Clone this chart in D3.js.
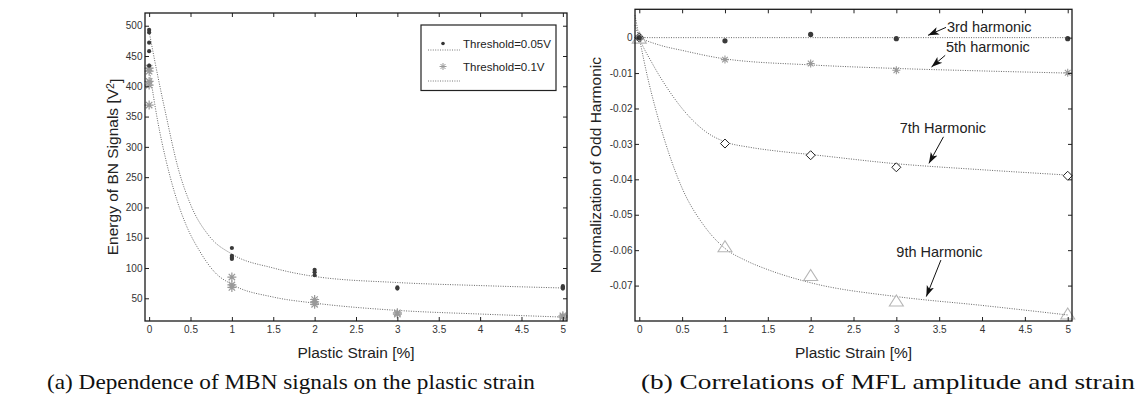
<!DOCTYPE html>
<html lang="en">
  <head>
    <title>MBN and MFL vs plastic strain</title>
    <script type="text/javascript" src="https://d3js.org/d3.v7.min.js"></script>
    <style>
      body { margin: 0; background: #fff; }
      text { font-family: "Liberation Sans", Arial, sans-serif; }
    </style>
  </head>

  <body>
    <div id="chart"></div>

    <script>
      // ---- data ----
      // (a) energy of BN signals, repeated measurements per strain
      const energy005 = [[0, 493], [0, 489], [0, 472], [0, 458], [0, 434],
        [1, 133], [1, 120], [1, 117], [1, 115],
        [2, 97], [2, 93], [2, 88],
        [3, 68], [3, 66],
        [5, 70], [5, 68], [5, 66]];
      const energy01 = [[0, 430], [0, 425], [0, 408], [0, 402], [0, 369],
        [1, 85], [1, 72], [1, 68],
        [2, 48], [2, 44], [2, 40],
        [3, 26], [3, 24],
        [5, 21], [5, 19]];
      // fitted curves (dotted), read point by point
      const fitStrainA = [0, 0.1, 0.2, 0.35, 0.5, 0.73, 1, 1.5, 2, 3, 4, 5];
      const fit005 = [490, 420, 355, 265, 205, 152, 123, 100, 86, 76, 71, 67];
      const fitStrainB = [0, 0.1, 0.2, 0.3, 0.45, 0.61, 0.8, 1, 1.5, 2, 3, 4, 5];
      const fit01 = [430, 345, 280, 228, 170, 128, 92, 73, 52, 42, 30, 24, 19];

      // (b) normalized odd harmonics
      const harmStrain = [0, 1, 2, 3, 5];
      const h3 = [0, -0.0009, 0.0009, -0.0003, -0.0003];
      const h5 = [0, -0.0062, -0.0073, -0.0092, -0.0099];
      const h7 = [0, -0.0299, -0.0332, -0.0366, -0.0390];
      const h9 = [0, -0.0589, -0.0670, -0.0742, -0.0779];
      const fit3Strain = [-0.05, 0, 1, 2, 3, 4, 5];
      const fit3 = [0, 0, 0, 0, 0, 0, 0];
      const fit5Strain = [-0.05, 0, 0.25, 0.5, 1, 2, 3, 4, 5];
      const fit5 = [0.0006, 0, -0.0022, -0.0036, -0.006, -0.0077, -0.0087, -0.0094, -0.0100];
      const fit7Strain = [-0.05, 0, 0.15, 0.32, 0.59, 0.79, 1, 1.3, 1.6, 2, 3, 4, 5];
      const fit7 = [0.0035, 0, -0.0072, -0.0140, -0.0225, -0.0268, -0.0294, -0.0310, -0.0320, -0.0330, -0.0356, -0.0373, -0.0388];
      const fit9Strain = [-0.05, 0, 0.1, 0.2, 0.35, 0.5, 0.75, 1, 1.25, 1.5, 2, 3, 4, 5];
      const fit9 = [0.0063, 0, -0.0115, -0.021, -0.033, -0.0425, -0.0529, -0.0595, -0.0630, -0.0655, -0.0692, -0.0731, -0.0756, -0.0783];

      // annotations: label, text anchor point, arrow tail, arrow tip (data units)
      const notes = [
        {label: "3rd harmonic", tx: 3.59, ty: 0.0030, x1: 3.58, y1: 0.0029, x2: 3.37, y2: 0.00065},
        {label: "5th harmonic", tx: 3.58, ty: -0.00265, x1: 3.57, y1: -0.0050, x2: 3.41, y2: -0.0083},
        {label: "7th Harmonic", tx: 3.04, ty: -0.0256, x1: 3.55, y1: -0.0280, x2: 3.38, y2: -0.0355},
        {label: "9th Harmonic", tx: 3.00, ty: -0.0604, x1: 3.52, y1: -0.0628, x2: 3.35, y2: -0.0731}
      ];

      const strainTicks = [0, 0.5, 1, 1.5, 2, 2.5, 3, 3.5, 4, 4.5, 5];
      const energyTicks = [50, 100, 150, 200, 250, 300, 350, 400, 450, 500];
      const harmTicks = [0, -0.01, -0.02, -0.03, -0.04, -0.05, -0.06, -0.07];

      const captionA = "(a) Dependence of MBN signals on the plastic strain";
      const captionB = "(b) Correlations of MFL amplitude and strain";

      // ---- layout ----
      const W = 1140, H = 394;
      const boxA = {left: 145, right: 567, top: 13, bottom: 321};
      const boxB = {left: 635, right: 1072, top: 9.3, bottom: 321};

      const svg = d3.select("#chart").append("svg")
        .attr("width", W).attr("height", H);

      const defs = svg.append("defs");
      defs.append("marker")
        .attr("id", "arrow")
        .attr("viewBox", "0 0 10 10")
        .attr("refX", 10).attr("refY", 5)
        .attr("markerWidth", 11).attr("markerHeight", 11)
        .attr("markerUnits", "userSpaceOnUse")
        .attr("orient", "auto")
        .append("path")
          .attr("d", "M0,1.5 L10,5 L0,8.5 L2.5,5 Z")
          .attr("fill", "#111");

      const xA = d3.scaleLinear().domain([-0.05, 5.05]).range([boxA.left, boxA.right]);
      const yA = d3.scaleLinear().domain([12.5, 521]).range([boxA.bottom, boxA.top]);
      const xB = d3.scaleLinear().domain([-0.05, 5.05]).range([boxB.left, boxB.right]);
      const yB = d3.scaleLinear().domain([-0.08, 0.008]).range([boxB.bottom, boxB.top]);

      function styleAxis(g) {
        g.select(".domain").remove();
        g.selectAll(".tick line").attr("stroke", "#222").attr("stroke-width", 1);
        g.selectAll(".tick text")
          .attr("fill", "#333")
          .style("font-family", "'Liberation Sans', Arial, sans-serif")
          .style("font-size", "10px");
      }

      function drawFrame(box, x, y, yTicks) {
        const g = svg.append("g");
        g.append("g")
          .attr("transform", "translate(0," + box.bottom + ")")
          .call(d3.axisBottom(x).tickValues(strainTicks).tickSizeInner(-4).tickSizeOuter(0)
            .tickPadding(5).tickFormat(d => String(d)))
          .call(styleAxis);
        g.append("g")
          .attr("transform", "translate(0," + box.top + ")")
          .call(d3.axisTop(x).tickValues(strainTicks).tickSizeInner(-4).tickSizeOuter(0).tickFormat(""))
          .call(styleAxis);
        g.append("g")
          .attr("transform", "translate(" + box.left + ",0)")
          .call(d3.axisLeft(y).tickValues(yTicks).tickSizeInner(-4).tickSizeOuter(0)
            .tickPadding(2.5).tickFormat(d => String(d)))
          .call(styleAxis);
        g.append("g")
          .attr("transform", "translate(" + box.right + ",0)")
          .call(d3.axisRight(y).tickValues(yTicks).tickSizeInner(-4).tickSizeOuter(0).tickFormat(""))
          .call(styleAxis);
        g.append("rect")
          .attr("x", box.left).attr("y", box.top)
          .attr("width", box.right - box.left).attr("height", box.bottom - box.top)
          .attr("fill", "none").attr("stroke", "#1a1a1a").attr("stroke-width", 1.3);
      }

      function dottedLine(g, xs, vs, x, y) {
        g.append("path")
          .datum(d3.zip(xs, vs))
          .attr("fill", "none")
          .attr("stroke", "#666")
          .attr("stroke-width", 1)
          .attr("stroke-dasharray", "1,1.4")
          .attr("d", d3.line()
            .x(d => x(d[0]))
            .y(d => y(d[1]))
            .curve(d3.curveMonotoneX));
      }

      function starPath(r) {
        const s = r * 0.7071;
        return "M" + (-r) + ",0H" + r + "M0," + (-r) + "V" + r +
          "M" + (-s) + "," + (-s) + "L" + s + "," + s +
          "M" + (-s) + "," + s + "L" + s + "," + (-s);
      }

      // ---- chart (a) ----
      const gA = svg.append("g");
      dottedLine(gA, fitStrainA, fit005, xA, yA);
      dottedLine(gA, fitStrainB, fit01, xA, yA);

      gA.append("g").selectAll("path")
        .data(energy01)
        .join("path")
          .attr("transform", d => "translate(" + xA(d[0]) + "," + yA(d[1]) + ")")
          .attr("d", starPath(4.5))
          .attr("stroke", "#999")
          .attr("stroke-width", 1.2)
          .attr("fill", "none");

      gA.append("g").selectAll("circle")
        .data(energy005)
        .join("circle")
          .attr("cx", d => xA(d[0]))
          .attr("cy", d => yA(d[1]))
          .attr("r", 2.1)
          .attr("fill", "#3a3a3a");

      drawFrame(boxA, xA, yA, energyTicks);

      // legend
      const leg = svg.append("g").attr("transform", "translate(421,25)");
      leg.append("rect")
        .attr("width", 135).attr("height", 65.5)
        .attr("fill", "#fff").attr("stroke", "#222").attr("stroke-width", 1.2);
      leg.append("circle").attr("cx", 22).attr("cy", 18.5).attr("r", 1.8).attr("fill", "#333");
      leg.append("path").attr("transform", "translate(22,41.5)").attr("d", starPath(3.5))
        .attr("stroke", "#999").attr("stroke-width", 1).attr("fill", "none");
      [25, 56].forEach(function (ly) {
        leg.append("line")
          .attr("x1", 7).attr("x2", 39).attr("y1", ly).attr("y2", ly)
          .attr("stroke", "#777").attr("stroke-dasharray", "1,1.4");
      });
      leg.append("text").attr("x", 42).attr("y", 18.5).attr("dy", "0.35em")
        .style("font-size", "11.5px").attr("fill", "#222").text("Threshold=0.05V");
      leg.append("text").attr("x", 42).attr("y", 41.5).attr("dy", "0.35em")
        .style("font-size", "11.5px").attr("fill", "#222").text("Threshold=0.1V");

      // axis titles (a)
      const ttlA = svg.append("text")
        .attr("transform", "translate(113," + ((boxA.top + boxA.bottom) / 2) + ") rotate(-90)")
        .attr("text-anchor", "middle").attr("dy", "0.35em")
        .style("font-size", "15.5px").attr("fill", "#222");
      ttlA.append("tspan").text("Energy of BN Signals [V");
      ttlA.append("tspan").attr("dy", "-0.45em").style("font-size", "10.5px").text("2");
      ttlA.append("tspan").attr("dy", "0.45em").text("]");

      svg.append("text")
        .attr("x", (boxA.left + boxA.right) / 2).attr("y", 353).attr("dy", "0.35em")
        .attr("text-anchor", "middle").style("font-size", "15.5px").attr("fill", "#222")
        .text("Plastic Strain [%]");

      // ---- chart (b) ----
      const gB = svg.append("g");
      dottedLine(gB, fit3Strain, fit3, xB, yB);
      dottedLine(gB, fit5Strain, fit5, xB, yB);
      dottedLine(gB, fit7Strain, fit7, xB, yB);
      dottedLine(gB, fit9Strain, fit9, xB, yB);

      gB.append("g").selectAll("path")
        .data(d3.zip(harmStrain, h9))
        .join("path")
          .attr("transform", d => "translate(" + xB(d[0]) + "," + yB(d[1]) + ")")
          .attr("d", "M-7,5.5L0,-5.5L7,5.5Z")
          .attr("fill", "none").attr("stroke", "#b5b5b5").attr("stroke-width", 1.1);

      gB.append("g").selectAll("path")
        .data(d3.zip(harmStrain, h7))
        .join("path")
          .attr("transform", d => "translate(" + xB(d[0]) + "," + yB(d[1]) + ")")
          .attr("d", "M0,-4.5L4.5,0L0,4.5L-4.5,0Z")
          .attr("fill", "#fff").attr("stroke", "#222").attr("stroke-width", 1);

      gB.append("g").selectAll("path")
        .data(d3.zip(harmStrain, h5))
        .join("path")
          .attr("transform", d => "translate(" + xB(d[0]) + "," + yB(d[1]) + ")")
          .attr("d", starPath(4))
          .attr("stroke", "#999").attr("stroke-width", 1.1).attr("fill", "none");

      gB.append("g").selectAll("circle")
        .data(d3.zip(harmStrain, h3))
        .join("circle")
          .attr("cx", d => xB(d[0]))
          .attr("cy", d => yB(d[1]))
          .attr("r", 2.6)
          .attr("fill", "#3a3a3a");

      drawFrame(boxB, xB, yB, harmTicks);

      // annotations with arrows
      const ann = svg.append("g");
      ann.selectAll("line")
        .data(notes)
        .join("line")
          .attr("x1", d => xB(d.x1)).attr("y1", d => yB(d.y1))
          .attr("x2", d => xB(d.x2)).attr("y2", d => yB(d.y2))
          .attr("stroke", "#111").attr("stroke-width", 1)
          .attr("marker-end", "url(#arrow)");
      ann.selectAll("text")
        .data(notes)
        .join("text")
          .attr("x", d => xB(d.tx)).attr("y", d => yB(d.ty)).attr("dy", "0.35em")
          .style("font-size", "14.5px").attr("fill", "#222")
          .text(d => d.label);

      svg.append("text")
        .attr("transform", "translate(596," + ((boxB.top + boxB.bottom) / 2) + ") rotate(-90)")
        .attr("text-anchor", "middle").attr("dy", "0.35em")
        .style("font-size", "15.5px").attr("fill", "#222")
        .text("Normalization of Odd Harmonic");

      svg.append("text")
        .attr("x", (boxB.left + boxB.right) / 2).attr("y", 353).attr("dy", "0.35em")
        .attr("text-anchor", "middle").style("font-size", "15.5px").attr("fill", "#222")
        .text("Plastic Strain [%]");

      // captions (stretched to the width they take in the figure)
      svg.append("text").attr("x", 47).attr("y", 389)
        .attr("textLength", 488).attr("lengthAdjust", "spacingAndGlyphs")
        .style("font-family", "'Liberation Serif', 'Times New Roman', serif")
        .style("font-size", "22px").attr("fill", "#111")
        .text(captionA);
      svg.append("text").attr("x", 641).attr("y", 389)
        .attr("textLength", 494).attr("lengthAdjust", "spacingAndGlyphs")
        .style("font-family", "'Liberation Serif', 'Times New Roman', serif")
        .style("font-size", "22px").attr("fill", "#111")
        .text(captionB);
    </script>
  </body>
</html>
